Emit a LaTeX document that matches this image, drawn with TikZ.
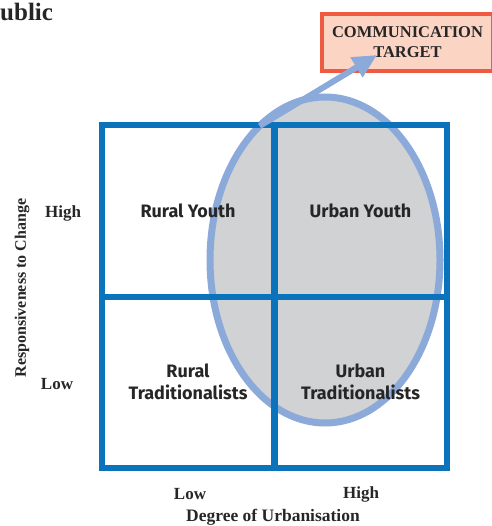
\documentclass[tikz,border=0pt]{standalone}
\usepackage{fontspec}
\setmainfont{Liberation Serif}
\newfontfamily\quadfont{Fira Sans}
\usetikzlibrary{arrows.meta,shapes.geometric}
\definecolor{gridblue}{HTML}{0A73BB}
\definecolor{ringblue}{HTML}{8BA9D9}
\definecolor{groupgray}{HTML}{D1D2D4}
\definecolor{boxred}{HTML}{EE5A42}
\definecolor{boxfill}{HTML}{FBD4C4}
\begin{document}
\begin{tikzpicture}[x=1pt, y=-1pt,
    cell/.style={rectangle, draw=gridblue, line width=6pt, minimum width=172pt, minimum height=171pt, align=center, font=\quadfont\bfseries\fontsize{18}{22}\selectfont, text=black!85},
    group/.style={ellipse, draw=ringblue, line width=7pt, fill=groupgray, minimum width=230pt, minimum height=326pt, outer sep=0pt},
    goal/.style={rectangle, draw=boxred, line width=4pt, fill=boxfill, minimum width=171pt, minimum height=57pt, align=center, font=\bfseries\fontsize{16.5}{20}\selectfont, text=black!85},
    axislabel/.style={font=\bfseries\fontsize{17}{20}\selectfont, text=black!85},
    pointer/.style={-{Triangle[length=24pt, width=22pt]}, line width=6pt, draw=ringblue}
]
    \useasboundingbox (0,0) rectangle (491,526);

    % Title (cut off)
    \node[anchor=base west, inner sep=0pt, font=\bfseries\fontsize{25}{28}\selectfont, text=black!85] (title) at (0,21) {ublic};

    % Target group
    \node[group] (grp) at (325,260) {};

    % Quadrants
    \node[cell] (ry) at (188,211) {Rural Youth};
    \node[cell] (uy) at (360.5,211) {Urban Youth};
    \node[cell] (rt) at (188,382) {Rural\\Traditionalists};
    \node[cell] (ut) at (360.5,382) {Urban\\Traditionalists};

    % Communication target
    \node[goal] (target) at (407.5,42.5) {COMMUNICATION\\TARGET};
    \coordinate (tip) at (377,55);
    \draw[pointer] (grp.116) -- (tip);

    % Axes
    \node[axislabel] (yhigh) at (63,213) {High};
    \node[axislabel] (ylow) at (57,384) {Low};
    \node[axislabel, rotate=90, font=\bfseries\fontsize{16}{20}\selectfont] (yaxis) at (22,288) {Responsiveness to Change};
    \node[axislabel] (xlow) at (190,494) {Low};
    \node[axislabel] (xhigh) at (361,494) {High};
    \node[axislabel, font=\bfseries\fontsize{17.5}{20}\selectfont] (xaxis) at (273,517) {Degree of Urbanisation};

\end{tikzpicture}
\end{document}
